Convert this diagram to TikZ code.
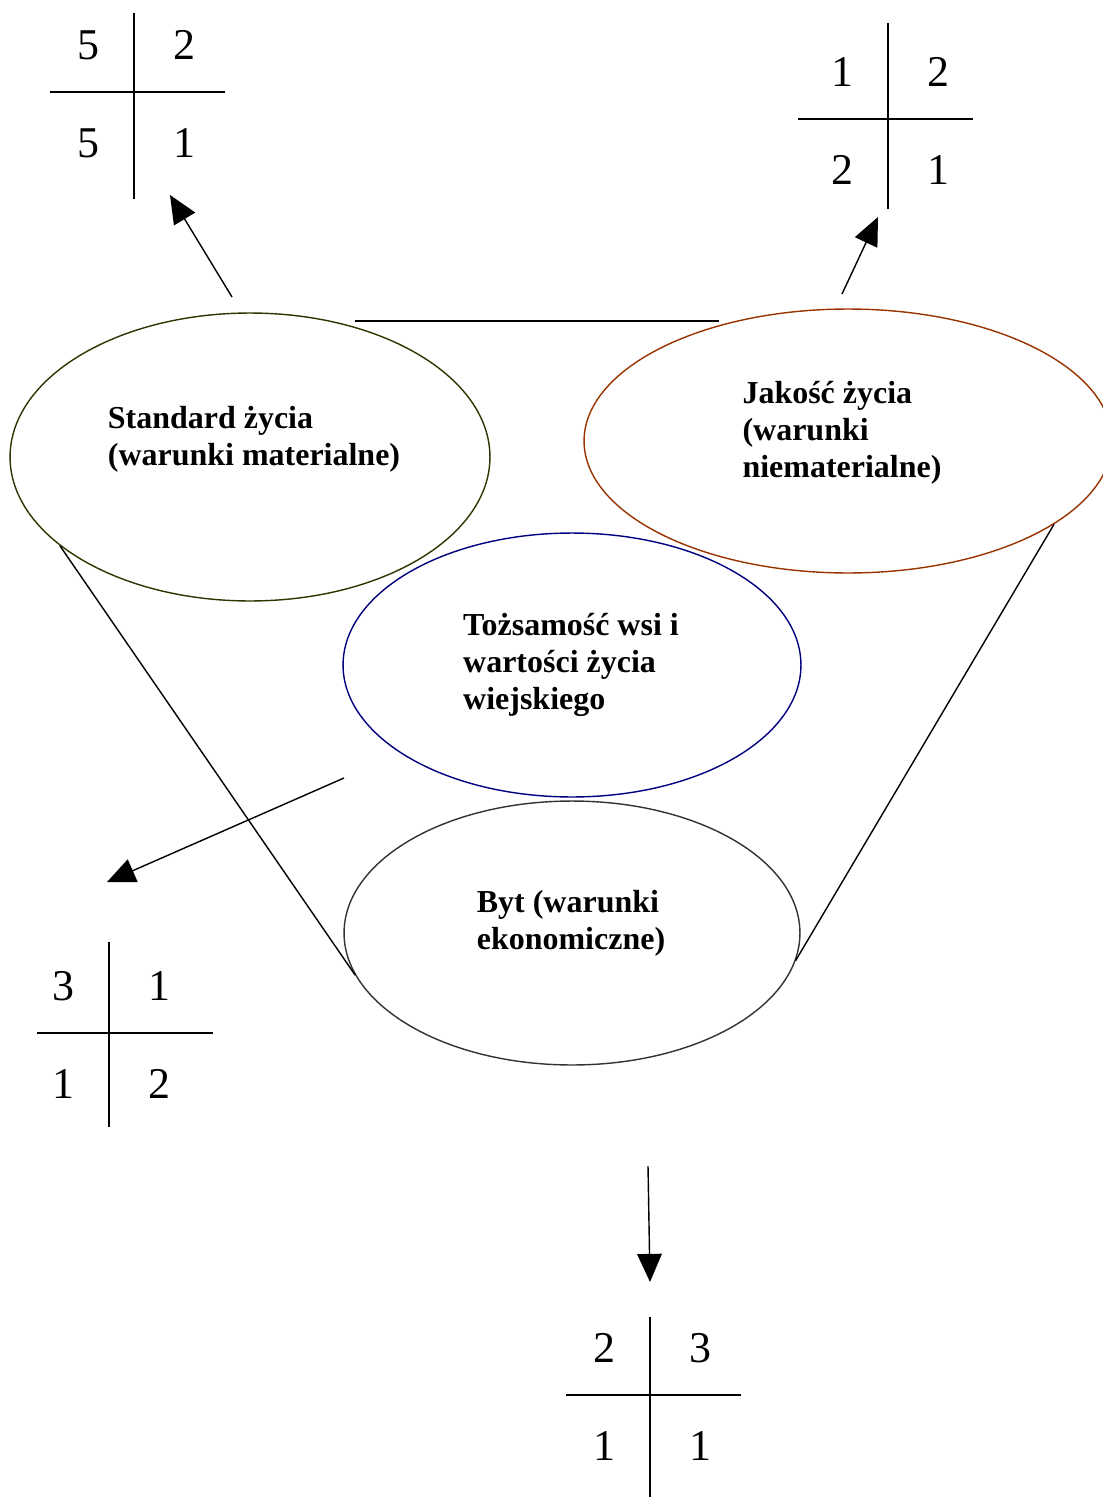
\documentclass[tikz,border=0pt]{standalone}
\usepackage{fontspec}
\setmainfont{Liberation Serif}
\usetikzlibrary{arrows.meta, shapes.geometric}
\newcommand{\krzyz}[6]
{   \draw[kreska] (#1,#2+#3) -- (#1,#2+#4);
    \draw[kreska] (#1+#5,#2) -- (#1+#6,#2);
}
\newcommand{\liczby}[7]
{   \begin{scope}[shift={(#2,#3)}]
      \node[liczba] (#1a) at (-46,-47) {#4};
      \node[liczba] (#1b) at (50,-47) {#5};
      \node[liczba] (#1c) at (-46,51) {#6};
      \node[liczba] (#1d) at (50,51) {#7};
    \end{scope}
}

\begin{document}
\begin{tikzpicture}[x=0.02cm, y=-0.02cm,
    kreska/.style={line width=0.8pt},
    liczba/.style={font=\fontsize{25}{30}\selectfont, inner sep=0pt},
    owal/.style={ellipse, draw, line width=0.8pt, inner sep=0pt},
    napis/.style={align=left, inner sep=0pt, font=\fontsize{18.2}{21}\selectfont\bfseries},
    strzalka/.style={line width=0.8pt, -{Triangle[length=16pt, width=14pt]}}]
  \useasboundingbox (0,0) rectangle (1102,1497);
  \definecolor{oliwka}{HTML}{333300}
  \definecolor{rdza}{HTML}{993300}
  \definecolor{granat}{HTML}{000080}
  \definecolor{grafit}{HTML}{333333}
  % owale
  \node[owal, draw=oliwka, minimum width=9.6cm, minimum height=5.76cm] (standard) at (250,457) {};
  \node[owal, draw=rdza, minimum width=10.56cm, minimum height=5.28cm] (jakosc) at (848,441) {};
  \node[owal, draw=granat, minimum width=9.16cm, minimum height=5.28cm] (tozsamosc) at (572,665) {};
  \node[owal, draw=grafit, minimum width=9.12cm, minimum height=5.28cm] (byt) at (572,933) {};
  \node[napis] (standard-t) at (254,439) {Standard życia\\(warunki materialne)};
  \node[napis] (jakosc-t) at (842,433) {Jakość życia\\(warunki\\niematerialne)};
  \node[napis] (tozsamosc-t) at (571,665) {Tożsamość wsi i\\wartości życia\\wiejskiego};
  \node[napis] (byt-t) at (571,923) {Byt (warunki\\ekonomiczne)};
  % lejek
  \coordinate (gora1) at (355,321);
  \coordinate (gora2) at (719,321);
  \draw[kreska] (gora1) -- (gora2);
  \draw[kreska] (standard.-155.5) -- (byt.191);
  \draw[kreska] (jakosc.-22.4) -- (byt.-7.4);
  % tabelki
  \krzyz{134}{92}{-79}{107}{-84}{91}
  \krzyz{888}{119}{-96}{90}{-90}{85}
  \krzyz{109}{1033}{-91}{94}{-72}{104}
  \krzyz{650}{1395}{-78}{102}{-84}{91}
  \liczby{t1}{134}{92}{5}{2}{5}{1}
  \liczby{t2}{888}{119}{1}{2}{2}{1}
  \liczby{t3}{109}{1033}{3}{1}{1}{2}
  \liczby{t4}{650}{1395}{2}{3}{1}{1}
  % strzalki
  \coordinate (s1) at (232,297);
  \coordinate (k1) at (170,195);
  \coordinate (s2) at (842,294);
  \coordinate (k2) at (878,217);
  \coordinate (s3) at (344,778);
  \coordinate (k3) at (107,882);
  \coordinate (s4) at (648,1166);
  \coordinate (k4) at (650,1282);
  \draw[strzalka] (s1) -- (k1);
  \draw[strzalka] (s2) -- (k2);
  \draw[strzalka] (s3) -- (k3);
  \draw[strzalka] (s4) -- (k4);
\end{tikzpicture}
\end{document}
